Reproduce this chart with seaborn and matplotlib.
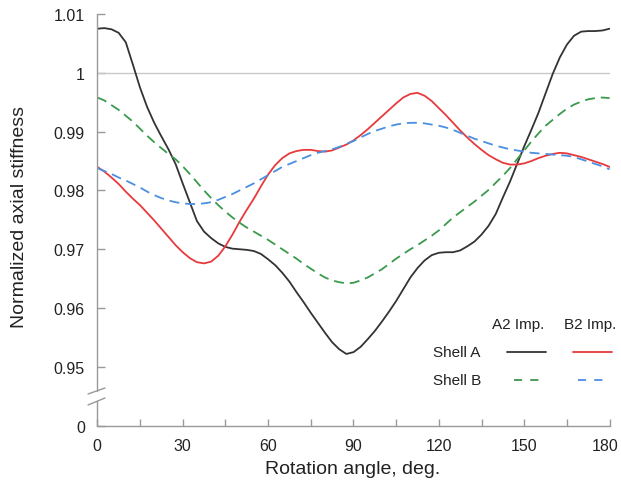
import numpy as np
import pandas as pd
import matplotlib
matplotlib.use("Agg")
import matplotlib.pyplot as plt
import matplotlib.transforms as mtransforms
from matplotlib.lines import Line2D
import seaborn as sns

# Rotation angle (deg), 2.5 deg steps
angle = [i * 2.5 for i in range(73)]

# Shell A, A2 imperfection
shell_a_a2 = [1.0075, 1.0076, 1.0074, 1.0068, 1.0052, 1.0014, 0.9975, 0.9942,
              0.9915, 0.9892, 0.9870, 0.9845, 0.9812, 0.9780, 0.9748, 0.9730,
              0.9719, 0.9710, 0.9704, 0.9701, 0.9700, 0.9699, 0.9697, 0.9692,
              0.9683, 0.9673, 0.9660, 0.9645, 0.9627, 0.9610, 0.9592, 0.9575,
              0.9558, 0.9542, 0.9530, 0.9522, 0.9525, 0.9534, 0.9547, 0.9561,
              0.9577, 0.9594, 0.9612, 0.9632, 0.9652, 0.9668, 0.9681, 0.9690,
              0.9694, 0.9695, 0.9695, 0.9698, 0.9705, 0.9713, 0.9725, 0.9740,
              0.9760, 0.9788, 0.9815, 0.9845, 0.9875, 0.9903, 0.9932, 0.9965,
              0.9998, 1.0026, 1.0048, 1.0063, 1.0070, 1.0071, 1.0071, 1.0072,
              1.0075]

# Shell A, B2 imperfection
shell_a_b2 = [0.9840, 0.9832, 0.9822, 0.9811, 0.9798, 0.9786, 0.9775, 0.9762,
              0.9749, 0.9735, 0.9721, 0.9707, 0.9695, 0.9685, 0.9678, 0.9676,
              0.9679, 0.9689, 0.9705, 0.9725, 0.9747, 0.9767, 0.9786, 0.9807,
              0.9827, 0.9843, 0.9855, 0.9863, 0.9867, 0.9869, 0.9869, 0.9867,
              0.9866, 0.9868, 0.9873, 0.9878, 0.9885, 0.9894, 0.9904, 0.9915,
              0.9926, 0.9937, 0.9948, 0.9958, 0.9964, 0.9966, 0.9961, 0.9952,
              0.9940, 0.9928, 0.9915, 0.9902, 0.9890, 0.9879, 0.9869, 0.9860,
              0.9853, 0.9847, 0.9844, 0.9844, 0.9846, 0.9850, 0.9855, 0.9859,
              0.9862, 0.9864, 0.9863, 0.9860, 0.9857, 0.9853, 0.9849, 0.9845,
              0.9840]

# Shell B, A2 imperfection
shell_b_a2 = [0.9958, 0.9953, 0.9945, 0.9937, 0.9927, 0.9917, 0.9905, 0.9893,
              0.9882, 0.9872, 0.9862, 0.9853, 0.9841, 0.9828, 0.9814, 0.9800,
              0.9787, 0.9775, 0.9764, 0.9754, 0.9745, 0.9737, 0.9730, 0.9723,
              0.9716, 0.9708, 0.9700, 0.9692, 0.9684, 0.9675, 0.9667, 0.9659,
              0.9652, 0.9647, 0.9644, 0.9642, 0.9643, 0.9647, 0.9652, 0.9659,
              0.9666, 0.9675, 0.9684, 0.9692, 0.9700, 0.9707, 0.9715, 0.9723,
              0.9732, 0.9743, 0.9754, 0.9763, 0.9772, 0.9781, 0.9791, 0.9801,
              0.9813, 0.9825, 0.9838, 0.9853, 0.9868, 0.9883, 0.9897, 0.9910,
              0.9920, 0.9930, 0.9939, 0.9946, 0.9951, 0.9955, 0.9957, 0.9958,
              0.9957]

# Shell B, B2 imperfection
shell_b_b2 = [0.9838, 0.9833, 0.9828, 0.9822, 0.9817, 0.9811, 0.9805, 0.9798,
              0.9792, 0.9787, 0.9783, 0.9780, 0.9778, 0.9777, 0.9777, 0.9778,
              0.9780, 0.9784, 0.9789, 0.9794, 0.9800, 0.9806, 0.9812, 0.9819,
              0.9826, 0.9833, 0.9840, 0.9845, 0.9850, 0.9855, 0.9860, 0.9864,
              0.9867, 0.9870, 0.9874, 0.9879, 0.9884, 0.9890, 0.9896, 0.9901,
              0.9905, 0.9909, 0.9912, 0.9914, 0.9915, 0.9915, 0.9914, 0.9912,
              0.9910, 0.9907, 0.9903, 0.9898, 0.9893, 0.9888, 0.9884, 0.9880,
              0.9876, 0.9873, 0.9870, 0.9868, 0.9866, 0.9864, 0.9863, 0.9862,
              0.9861, 0.9860, 0.9859, 0.9857, 0.9853, 0.9849, 0.9845, 0.9841,
              0.9836]

x_ticks = [0, 30, 60, 90, 120, 150, 180]
y_ticks = [0.94, 0.95, 0.96, 0.97, 0.98, 0.99, 1.00, 1.01]
y_tick_labels = ["0", "0.95", "0.96", "0.97", "0.98", "0.99", "1", "1.01"]

sns.set_theme(style="white")
plt.rcParams["font.family"] = ["Liberation Sans", "DejaVu Sans"]
TEXT = "#222222"
SPINE = "#999999"

W, H = 621, 489
fig = plt.figure(figsize=(W / 100, H / 100), dpi=100)
L, R, T, B = 97.3, 609.6, 15.0, 426.7
ax = fig.add_axes([L / W, (H - B) / H, (R - L) / W, (B - T) / H])

def ax_pt(px, py):
    return (px - L) / (R - L), (B - py) / (B - T)

def fig_pt(px, py):
    return px / W, (H - py) / H

# reference level
ax.axhline(1.0, color="#c9c9c9", lw=1.0, zorder=1)

lw = 1.3
dash = (5.5, 3.3)
series = [
    (shell_a_a2, "#333333", ""),
    (shell_a_b2, "#e8393c", ""),
    (shell_b_a2, "#3a9a4c", dash),
    (shell_b_b2, "#4a8fe0", dash),
]
for vals, color, d in series:
    df = pd.DataFrame({"angle": angle, "stiffness": vals})
    line_ax = sns.lineplot(data=df, x="angle", y="stiffness", ax=ax,
                           color=color, lw=lw, zorder=3)
    if d:
        line_ax.lines[-1].set_dashes(d)

ax.set_xlim(0, 180)
ax.set_ylim(0.94, 1.01)
ax.set_xticks(x_ticks)
ax.set_xticks(list(range(15, 180, 30)), minor=True)
ax.set_yticks(y_ticks)
ax.set_yticklabels(y_tick_labels)
ax.tick_params(axis="both", which="both", direction="in", colors=SPINE,
               labelcolor=TEXT, labelsize=11.5, width=1.0)
ax.tick_params(axis="x", which="both", length=5, pad=9, bottom=True)
ax.tick_params(axis="y", length=6, pad=9, left=True)
ax.set_xlabel("")
ax.set_ylabel("")

# keep the last angle label inside the canvas
last = ax.get_xticklabels()[-1]
last.set_horizontalalignment("right")
last.set_transform(last.get_transform() +
                   mtransforms.ScaledTranslation(9 / 100, 0, fig.dpi_scale_trans))

for s in ["top", "right", "left"]:
    ax.spines[s].set_visible(False)
ax.spines["bottom"].set_color(SPINE)
ax.spines["bottom"].set_linewidth(1.0)

# left spine with an axis break
gap_lo, gap_hi = 0.0596, 0.085
ax.plot([0, 0], [0, gap_lo], transform=ax.transAxes, color=SPINE, lw=1.0,
        clip_on=False, zorder=4)
ax.plot([0, 0], [gap_hi, 1.0], transform=ax.transAxes, color=SPINE, lw=1.0,
        clip_on=False, zorder=4)
for (x0, y0), (x1, y1) in [((88, 395), (105, 389)), ((88, 406), (105, 399))]:
    a0, a1 = ax_pt(x0, y0), ax_pt(x1, y1)
    ax.plot([a0[0], a1[0]], [a0[1], a1[1]], transform=ax.transAxes,
            color=SPINE, lw=1.0, clip_on=False, zorder=4)

fig.text(*fig_pt(353, 470), "Rotation angle, deg.", ha="center", va="center",
         fontsize=14, color=TEXT)
fig.text(*fig_pt(20, 217), "Normalized axial stiffness", ha="center",
         va="center", rotation=90, fontsize=14, color=TEXT)

# legend table
fs = 11
fig.text(*fig_pt(518, 325), "A2 Imp.", ha="center", va="center", fontsize=fs, color=TEXT)
fig.text(*fig_pt(590, 325), "B2 Imp.", ha="center", va="center", fontsize=fs, color=TEXT)
fig.text(*fig_pt(433, 353), "Shell A", ha="left", va="center", fontsize=fs, color=TEXT)
fig.text(*fig_pt(433, 381), "Shell B", ha="left", va="center", fontsize=fs, color=TEXT)
legend_lines = [
    ((507, 546), 353, "#333333", ""),
    ((573, 612), 353, "#e8393c", ""),
    ((514, 546), 381, "#3a9a4c", (4.5, 4.5)),
    ((578, 610), 381, "#4a8fe0", (4.5, 4.5)),
]
for (x0, x1), y, color, d in legend_lines:
    p0, p1 = fig_pt(x0, y), fig_pt(x1, y)
    ln = Line2D([p0[0], p1[0]], [p0[1], p1[1]], transform=fig.transFigure,
                color=color, lw=lw)
    if d:
        ln.set_dashes(d)
    fig.add_artist(ln)

fig.savefig("out.png", dpi=100, facecolor="white")
